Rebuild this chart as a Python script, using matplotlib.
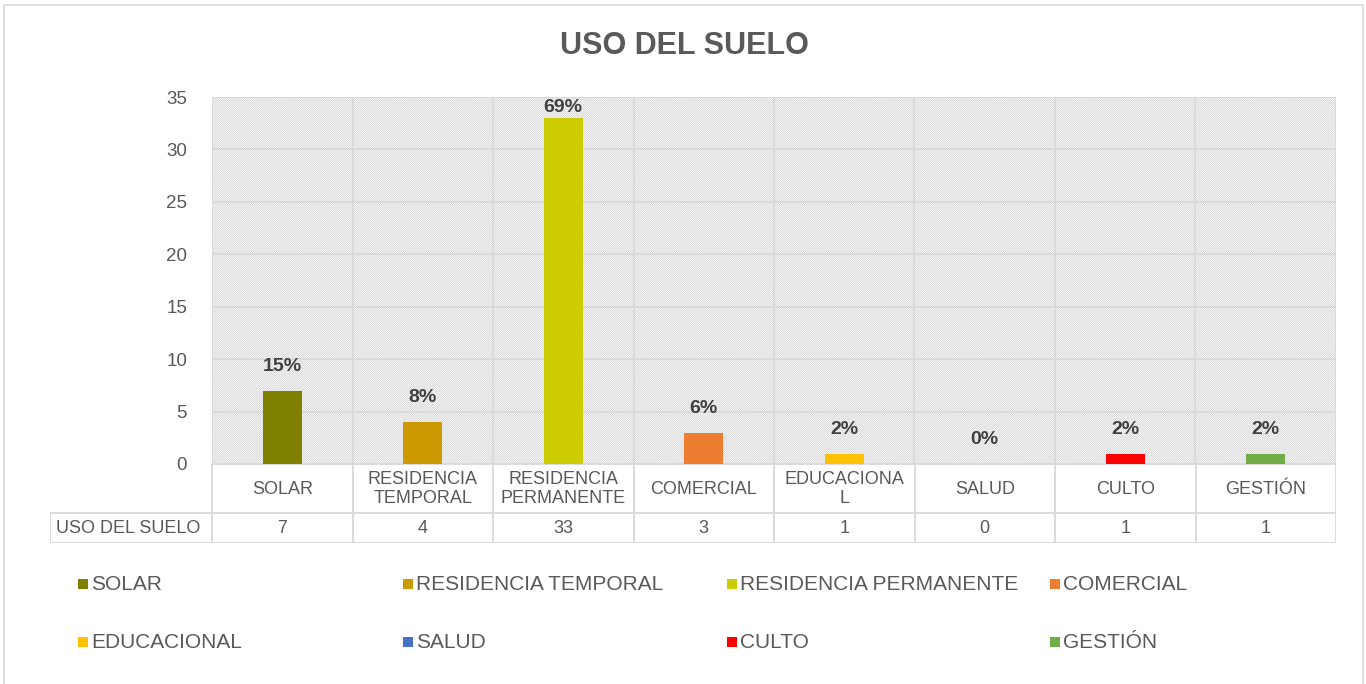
import matplotlib
matplotlib.use("Agg")
import matplotlib.pyplot as plt
from matplotlib.patches import Rectangle

plt.rcParams['font.family'] = ['Liberation Sans', 'DejaVu Sans']
plt.rcParams['hatch.linewidth'] = 0.45

# data
categories = ['SOLAR', 'RESIDENCIA TEMPORAL', 'RESIDENCIA PERMANENTE', 'COMERCIAL',
              'EDUCACIONAL', 'SALUD', 'CULTO', 'GESTIÓN']
axis_labels = ['SOLAR', 'RESIDENCIA\nTEMPORAL', 'RESIDENCIA\nPERMANENTE', 'COMERCIAL',
               'EDUCACIONA\nL', 'SALUD', 'CULTO', 'GESTIÓN']
values = [7, 4, 33, 3, 1, 0, 1, 1]
pct_labels = ['15%', '8%', '69%', '6%', '2%', '0%', '2%', '2%']
colors = ['#7F7F00', '#CC9900', '#CCCC00', '#ED7D31', '#FFC000', '#4472C4', '#FF0000', '#70AD47']
series_name = 'USO DEL SUELO'

W, H = 1366, 684
txt = '#595959'
grid = '#D9D9D9'

fig = plt.figure(figsize=(W / 100, H / 100), dpi=100)
fig.patch.set_facecolor('white')

# outer chart border (bottom edge falls outside the image)
fig.add_artist(Rectangle((4 / W, -0.05), (1363 - 4) / W, 1.05 - 5 / H, transform=fig.transFigure,
                         fill=False, edgecolor=grid, lw=1.2))

# main plot area (pixels)
x0, x1, ytop, ybot = 212, 1336, 97, 464
ax = fig.add_axes([x0 / W, 1 - ybot / H, (x1 - x0) / W, (ybot - ytop) / H])
n = len(categories)
ymax = 35
ax.set_xlim(-0.5, n - 0.5)
ax.set_ylim(0, ymax)

# hatched background
ax.add_patch(Rectangle((0, 0), 1, 1, transform=ax.transAxes, facecolor='white',
                       edgecolor='#C8C8C8', hatch='\\' * 16, lw=0, zorder=0))

for y in range(0, 36, 5):
    ax.axhline(y, color=grid, lw=1.3, zorder=1)
for i in range(n + 1):
    ax.axvline(i - 0.5, color=grid, lw=1.3, zorder=1)

xs = list(range(n))
bars = ax.bar(xs, values, width=0.28, color=colors, zorder=3)
# labels sit above the bars, but are kept inside the plot area (like Excel)
for b, lab in zip(bars, pct_labels):
    ly = min(b.get_height() + 2.3, ymax - 1.0)
    ax.text(b.get_x() + b.get_width() / 2, ly, lab, ha='center', va='center',
            fontsize=14, fontweight='bold', color='#404040', zorder=4)

for s in ax.spines.values():
    s.set_visible(False)
ax.set_xticks([])
ax.set_yticks(range(0, 36, 5))
ax.tick_params(axis='y', length=0, pad=18, labelsize=13.5, labelcolor=txt)

# data table below the axis
tl = 50
extra = (x0 - tl) / ((x1 - x0) / n)
tb = fig.add_axes([tl / W, 1 - 543 / H, (x1 - tl) / W, (543 - ybot) / H])
tb.set_xlim(-0.5 - extra, n - 0.5)
tb.set_ylim(543, ybot)
tb.axis('off')
tb.plot([-0.5, n - 0.5], [ybot, ybot], color=grid, lw=1.3)
tb.plot([-0.5 - extra, n - 0.5], [513, 513], color=grid, lw=1.3)
tb.plot([-0.5 - extra, n - 0.5], [543, 543], color=grid, lw=1.3)
tb.plot([-0.5 - extra, -0.5 - extra], [513, 543], color=grid, lw=1.3)
for i in range(n + 1):
    tb.plot([i - 0.5, i - 0.5], [ybot, 543], color=grid, lw=1.3)
for i in range(n):
    tb.text(i, 489, axis_labels[i], ha='center', va='center', fontsize=13,
            color=txt, linespacing=1.18)
    tb.text(i, 528.5, str(values[i]), ha='center', va='center', fontsize=13, color=txt)
tb.text(-0.5 - extra + 0.04, 528.5, series_name, ha='left', va='center', fontsize=13, color=txt)

# title
fig.text(684 / W, 1 - 46 / H, series_name, ha='center', va='center', fontsize=22,
         fontweight='bold', color=txt)

# legend
leg_x = [78, 403, 727, 1050]
leg_y = [584, 642]
for k, (name, c) in enumerate(zip(categories, colors)):
    lx = leg_x[k % 4]
    ly = leg_y[k // 4]
    fig.add_artist(Rectangle((lx / W, 1 - (ly + 5) / H), 10 / W, 10 / H,
                             transform=fig.transFigure, facecolor=c, edgecolor='none'))
    fig.text((lx + 13) / W, 1 - ly / H, name, ha='left', va='center', fontsize=15, color=txt)

fig.savefig('out.png', dpi=100)
